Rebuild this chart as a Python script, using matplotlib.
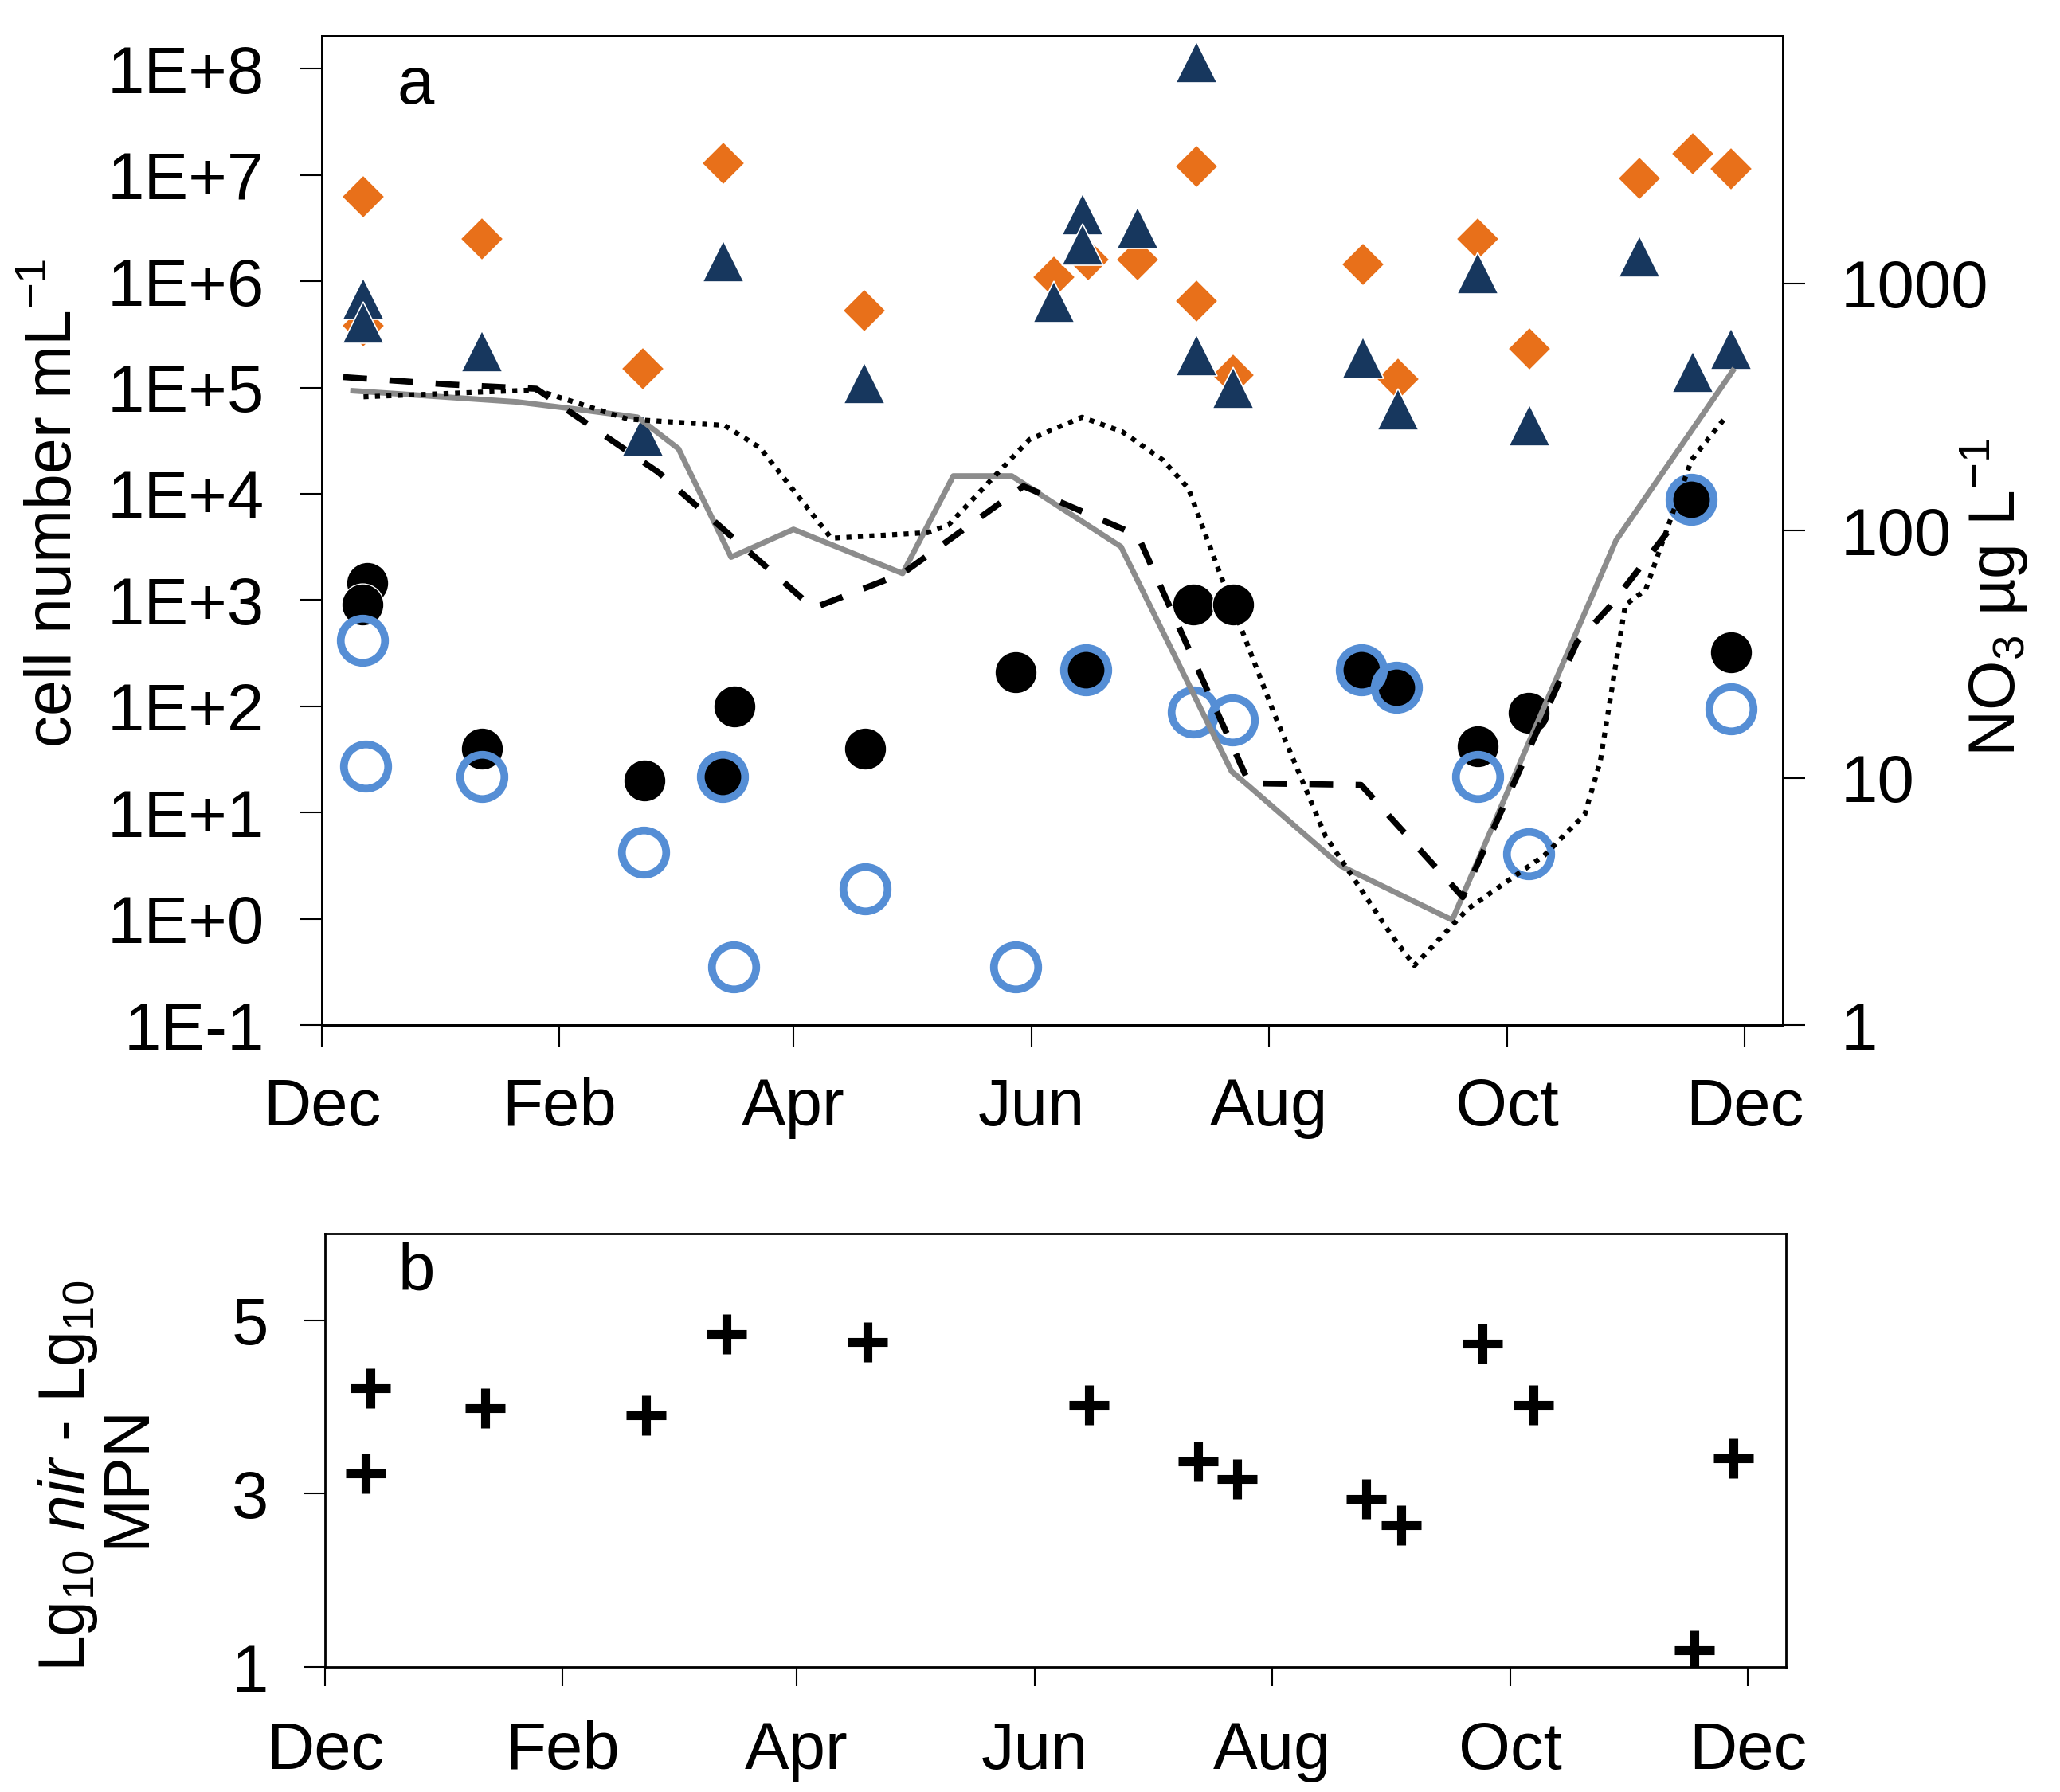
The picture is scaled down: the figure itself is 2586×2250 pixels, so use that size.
import numpy as np
import matplotlib
matplotlib.use("Agg")
import matplotlib.pyplot as plt
from matplotlib.ticker import NullLocator

plt.rcParams['font.family'] = ['Liberation Sans', 'DejaVu Sans']
plt.rcParams['mathtext.fontset'] = 'custom'
plt.rcParams['mathtext.rm'] = 'Liberation Sans'
plt.rcParams['mathtext.it'] = 'Liberation Sans:italic'
plt.rcParams['mathtext.default'] = 'regular'

############################################################################
# data, x = days since 1 Dec

month_ticks = [0, 61, 121, 182, 243, 304, 365]
month_labels = ['Dec', 'Feb', 'Apr', 'Jun', 'Aug', 'Oct', 'Dec']

cell_ticks = [1e-1, 1e0, 1e1, 1e2, 1e3, 1e4, 1e5, 1e6, 1e7, 1e8]
cell_tick_labels = ['1E-1', '1E+0', '1E+1', '1E+2', '1E+3', '1E+4',
                    '1E+5', '1E+6', '1E+7', '1E+8']
no3_ticks = [1, 10, 100, 1000]
no3_tick_labels = ['1', '10', '100', '1000']

# orange diamonds
dia_day = [10.7, 10.7, 41, 82.4, 103, 139.1, 187.9, 196.5, 209.3, 224.4,
           224.4, 233.7, 267.1, 276, 296.6, 309.9, 338, 351.7, 361.5]
dia_val = [6.2e6, 3.8e5, 2.5e6, 1.5e5, 1.3e7, 5.3e5, 1.1e6, 1.6e6, 1.6e6,
           1.2e7, 6.5e5, 1.3e5, 1.45e6, 1.2e5, 2.5e6, 2.3e5, 9.3e6, 1.6e7,
           1.15e7]

# navy triangles
tri_day = [10.7, 10.7, 41, 82.4, 103, 139.1, 187.9, 195.2, 195.2, 209.3,
           224.4, 224.4, 233.7, 267.1, 276, 296.6, 309.9, 338, 351.7, 361.5]
tri_val = [6.9e5, 4.1e5, 2.2e5, 3.5e4, 1.55e6, 1.1e5, 6.4e5, 4.3e6, 2.2e6,
           3.2e6, 1.15e8, 2.0e5, 1.0e5, 1.9e5, 6.2e4, 1.2e6, 4.4e4, 1.7e6,
           1.4e5, 2.3e5]

# black filled circles
black_day = [11.7, 10.4, 41, 82.7, 102.8, 105.9, 139.4, 178, 195.9, 223.6,
             233.7, 266.6, 275.7, 296.6, 309.7, 351.4, 361.5]
black_val = [1450, 910, 40, 20, 22, 100, 40, 210, 220, 900, 910, 220, 150,
             42, 87, 8900, 320]

# blue open circles
blue_day = [10.4, 11.3, 41, 82.5, 102.8, 105.6, 139.4, 177.9, 195.9, 223.6,
            233.6, 266.6, 275.7, 296.6, 309.7, 351.4, 361.5]
blue_val = [420, 27.5, 22, 4.2, 22, 0.355, 1.9, 0.355, 220, 89, 74, 220, 150,
            22, 4.1, 8900, 95]

# NO3 lines (ug/L)
grey_day = [8, 50, 65.5, 81, 91.5, 105, 121, 149, 162, 177, 205, 233.4, 238,
            261.4, 290, 332, 362]
grey_no3 = [367, 331, 309, 287, 214, 78, 101, 67, 166, 166, 86, 10.6, 9.2,
            4.4, 2.66, 91, 443]

dash_day = [5.5, 32.9, 55, 86.3, 126.1, 149, 180, 209.3, 237.9, 266.6,
            292.7, 322, 330.5, 346, 352.6]
dash_no3 = [417, 389, 374, 172, 48.5, 67, 151, 95.5, 9.5, 9.35, 3.29, 35.3,
            49.4, 102, 141]

dot_day = [10.7, 55, 78.5, 103.3, 112.4, 130.7, 155.4, 160.7, 181.5, 195,
           205.3, 215.7, 222.3, 230.1, 244.4, 257.5, 274.4, 280.3, 294,
           313.6, 324, 328, 334.4, 339.6, 351.4, 360.5]
dot_no3 = [347, 370, 282, 266, 216, 93, 98, 105, 233, 287, 251, 193, 148, 69,
           18, 5.8, 2.31, 1.74, 2.95, 4.85, 7.1, 11.7, 50, 57.5, 193, 292]

# panel b crosses
cross_day = [11.7, 10.4, 41, 82.4, 103, 139.1, 196, 224, 234, 267, 276,
             296.9, 310, 351.4, 361.4]
cross_val = [4.22, 3.23, 3.99, 3.90, 4.84, 4.75, 4.02, 3.37, 3.17, 2.94,
             2.64, 4.73, 4.02, 1.19, 3.41]

############################################################################

orange = '#E8701A'
navy = '#17375E'
ringBlue = '#558ED5'
grey = '#8C8C8C'

W, H = 2586, 2250
fig = plt.figure(figsize=(W / 100, H / 100), dpi=100)

ax = fig.add_axes([404 / W, 1 - 1287 / H, (2238 - 404) / W, (1287 - 45) / H])
axb = fig.add_axes([408 / W, 1 - 2093 / H, (2242 - 408) / W, (2093 - 1549) / H])

xmax = 374.8
fs = 60

# panel a, cell counts
ax.plot(dia_day, dia_val, ls='none', marker='D', ms=27, mfc=orange,
        mec='white', mew=1.2, zorder=2)
ax.plot(tri_day, tri_val, ls='none', marker='^', ms=37, mfc=navy,
        mec='white', mew=1.2, zorder=3)
ax.plot(black_day, black_val, ls='none', marker='o', ms=38, mfc='black',
        mec='white', mew=1.0, zorder=4)
ax.plot(blue_day, blue_val, ls='none', marker='o', ms=40, mfc='none',
        mec=ringBlue, mew=7, zorder=5)

ax.set_yscale('log')
ax.set_ylim(0.1, 10 ** 8.31)
ax.set_xlim(0, xmax)
ax.set_yticks(cell_ticks)
ax.set_yticklabels(cell_tick_labels)
ax.yaxis.set_minor_locator(NullLocator())
ax.set_xticks(month_ticks)
ax.set_xticklabels(month_labels)
ax.tick_params(axis='y', direction='out', length=20, width=1.5, pad=32,
               labelsize=fs)
ax.tick_params(axis='x', direction='out', length=20, width=1.5, pad=27,
               labelsize=fs)

# NO3 on right axis
ax2 = ax.twinx()
ax2.plot(grey_day, grey_no3, color=grey, lw=5, zorder=3)
ax2.plot(dash_day, dash_no3, color='black', lw=5.5, dashes=(3.9, 3.7), zorder=3)
ax2.plot(dot_day, dot_no3, color='black', lw=4.5, dashes=(1.0, 1.3), zorder=3)
ax2.set_yscale('log')
ax2.set_ylim(1, 1e4)
ax2.set_xlim(0, xmax)
ax2.set_yticks(no3_ticks)
ax2.set_yticklabels(no3_tick_labels)
ax2.yaxis.set_minor_locator(NullLocator())
ax2.tick_params(axis='y', direction='out', length=20, width=1.5, pad=32,
                labelsize=fs)

for a in (ax, ax2, axb):
  for s in a.spines.values():
    s.set_linewidth(2)

ax.text(0.0513, 0.9316, 'a', transform=ax.transAxes, fontsize=fs,
        va='baseline', ha='left')

# panel b
axb.plot(cross_day, cross_val, ls='none', marker='+', ms=36, mew=8,
         color='black')
axb.set_xlim(0, xmax)
axb.set_ylim(1, 6)
axb.set_yticks([1, 3, 5])
axb.set_xticks(month_ticks)
axb.set_xticklabels(month_labels)
axb.tick_params(axis='y', direction='out', length=19, width=1.5, pad=32,
                labelsize=fs)
axb.tick_params(axis='x', direction='out', length=17, width=1.5, pad=31,
                labelsize=fs)
axb.text(0.050, 0.870, 'b', transform=axb.transAxes, fontsize=fs,
         va='baseline', ha='left')

# axis titles
fig.text(68 / W, 1 - 632 / H, 'cell number mL$^{-1}$', rotation=90,
         ha='center', va='center', fontsize=58)
fig.text(2503 / W, 1 - 750 / H, 'NO$_3$ µg L$^{-1}$', rotation=90,
         ha='center', va='center', fontsize=58)
fig.text(122 / W, 1 - 1853 / H, 'Lg$_{10}$ $\\mathit{nir}$ - Lg$_{10}$\nMPN',
         rotation=90, ha='center', va='center', multialignment='center',
         linespacing=0.95, fontsize=58)

fig.savefig('out.png', dpi=100)
